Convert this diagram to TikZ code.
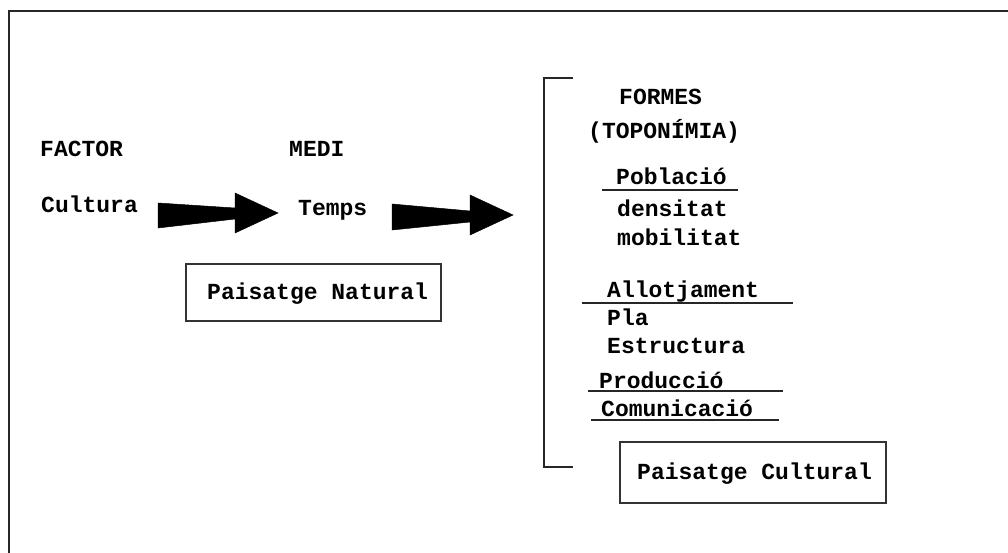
\documentclass[tikz,border=0pt]{standalone}
\usepackage{fontspec}
\newfontfamily\diagfont{Liberation Mono}
\begin{document}
\begin{tikzpicture}[x=1pt,y=-1pt,
  txt/.style={anchor=base west,inner sep=0pt,font=\diagfont\bfseries\fontsize{23}{27}\selectfont},
  frame/.style={line width=2pt,draw=black!85},
  boxline/.style={line width=1.8pt,draw=black!80},
  uline/.style={line width=1.6pt,draw=black!85},
  bigarrow/.style={fill=black,draw=black,line width=0.5pt}]
\useasboundingbox (0,0) rectangle (1008,553);
% outer frame
\draw[frame] (9,553) -- (9,11) -- (1008,11);
% left texts
\node[txt] (factor) at (40,157) {FACTOR};
\node[txt] (medi) at (289,157) {MEDI};
\node[txt] (cultura) at (41,213) {Cultura};
\node[txt] (temps) at (298,216) {Temps};
% arrows
\coordinate (a1) at (158,215);
\coordinate (a2) at (392,217);
\filldraw[bigarrow] (158,203) -- (235,208) -- (235,193) -- (278,213) -- (235,233) -- (235,219) -- (158,228) -- cycle;
\filldraw[bigarrow] (392,204) -- (470,211) -- (470,195) -- (513,215) -- (470,235) -- (470,222) -- (392,230) -- cycle;
% natural box
\draw[boxline] (186,264) rectangle (441,321);
\node[txt] (natural) at (207,299) {Paisatge Natural};
% bracket
\draw[uline] (573,78) -- (544,78) -- (544,467) -- (573,467);
% right column
\node[txt] (formes) at (619,105) {FORMES};
\node[txt] (topo) at (588,139) {(TOPONÍMIA)};
\node[txt] (poblacio) at (616,185) {Població};
\draw[uline] (602,190) -- (738,190);
\node[txt] (densitat) at (617,217) {densitat};
\node[txt] (mobilitat) at (617,245) {mobilitat};
\node[txt] (allot) at (607,297) {Allotjament};
\draw[uline] (582,303) -- (793,303);
\node[txt] (pla) at (607,325) {Pla};
\node[txt] (estructura) at (607,353) {Estructura};
\node[txt] (produccio) at (599,388) {Producció};
\draw[uline] (588,391) -- (783,391);
\node[txt] (comunicacio) at (601,416) {Comunicació};
\draw[uline] (591,420) -- (779,420);
% cultural box
\draw[boxline] (620,442) rectangle (886,503);
\node[txt] (cultural) at (637,479) {Paisatge Cultural};
\end{tikzpicture}
\end{document}
